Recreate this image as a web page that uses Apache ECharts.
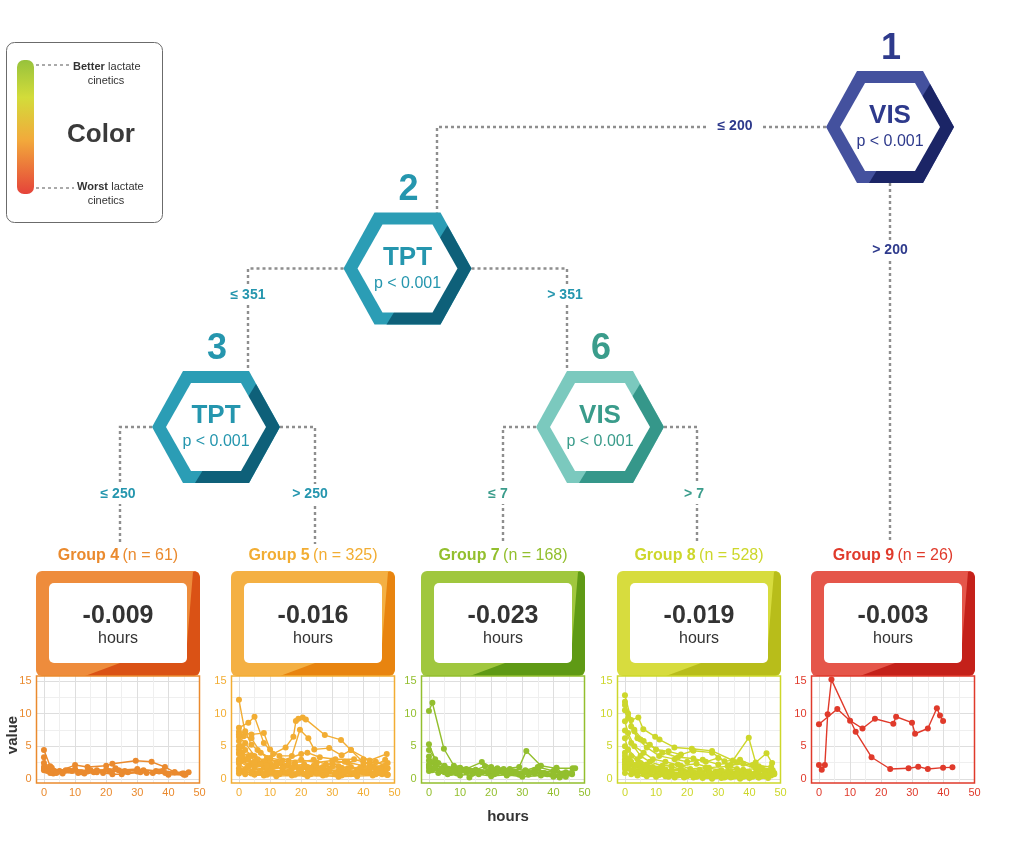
<!DOCTYPE html>
<html>
<head>
<meta charset="utf-8">
<script src="https://cdn.jsdelivr.net/npm/echarts@6/dist/echarts.min.js"></script>
<style>html,body{margin:0;background:#fff}#main{width:1036px;height:854px}</style>
</head>
<body>
<div id="main"></div>
<script>
// ---- data ----
const nodeIds = ['1', '2', '3', '6'];
const nodeVars = ['VIS', 'TPT', 'TPT', 'VIS'];
const nodePvals = ['p < 0.001', 'p < 0.001', 'p < 0.001', 'p < 0.001'];
const splitLabels = ['≤ 200', '> 200', '≤ 351', '> 351', '≤ 250', '> 250', '≤ 7', '> 7'];
const groupNames = ['Group 4', 'Group 5', 'Group 7', 'Group 8', 'Group 9'];
const groupN = [61, 325, 168, 528, 26];
const groupSlopes = ['-0.009', '-0.016', '-0.023', '-0.019', '-0.003'];
const xTicks = [0, 10, 20, 30, 40, 50];
const xGrid = [0, 5, 10, 15, 20, 25, 30, 35, 40, 45, 50];
const yTicks = [0, 5, 10, 15];
const yGrid = [0, 2.5, 5, 7.5, 10, 12.5, 15];

const g4Lines = [
  [[0,4.4],[2,1.9],[5,1.2],[10,2.1],[14,1.8],[20,2.0],[22,2.3],[29.5,2.75],[34.6,2.6],[38.9,1.8],[42,1.0],[46.5,1.0]],
  [[0,3.3],[1,1.5],[3,0.8],[7,1.3],[12,1.0],[17,1.3],[24,1.3],[30,1.5],[36,1.2],[45,0.8]],
  [[0,2.4],[2.5,1.7],[5,1.1],[10,1.5],[14,1.1],[19,0.9],[22,0.7],[25,0.7],[31,1.0],[39,0.9],[44.5,0.8]],
  [[0,1.3],[2,0.9],[6,0.8],[9,1.2],[13,0.8],[17,1.0],[21,1.2],[27,1.0],[33,0.9],[37,1.1],[40,0.6],[45,0.6]],
  [[0,1.8],[3,1.2],[8,1.3],[15,1.3],[20,1.4],[26,1.2],[32,1.3],[38,1.2],[42,1.0]],
  [[0,1.5],[1,1.2],[4,0.9],[11,0.9],[16,1.0],[23,1.6],[30,1.1],[35,0.9],[45.5,0.6]]
];
const g5Lines = [
  [[0,12.1],[2,7.0],[4,6.8],[8,7.0],[10,4.5],[13,3.5],[17,3.5],[19.6,7.5],[22.3,6.2],[24.2,4.5],[29,4.7],[33,3.6],[36,4.4],[42,2.8],[47.5,3.8]],
  [[0,7.8],[3,8.6],[5,9.5],[8,5.5],[11,3.8],[15,4.8],[17.5,6.45],[18.3,8.85],[19.1,9.2],[20.5,9.4],[21.5,9.1],[27.6,6.7],[32.8,5.95],[36,4.4],[40,2.5],[47.8,2.4]],
  [[0,7.2],[1.5,6.5],[4,6.2],[7,4.0],[10,3.2],[14,2.8],[20,3.8],[22,4.0],[26,3.3],[31,3.0],[37,3.0],[42,2.2],[46,1.8]],
  [[0,6.4],[2,5.5],[5,3.5],[9,2.6],[12,2.0],[18,2.5],[24,2.9],[28,2.2],[34,2.6],[40,2.0],[47.8,1.6]],
  [[0,5.0],[1,4.0],[3,3.5],[6,2.5],[10,3.0],[16,2.0],[21,2.2],[25,1.8],[30,2.3],[35,1.6],[43,1.9],[47,2.9]],
  [[0,4.5],[2,3.0],[4,2.3],[8,1.8],[13,2.4],[17,1.5],[22,1.8],[27,1.5],[32,1.9],[38,1.4],[44,1.5],[47.8,0.6]],
  [[0,3.8],[1,2.8],[5,1.7],[9,1.4],[14,1.2],[19,1.6],[24,1.2],[29,1.3],[34,1.0],[39,1.2],[45,0.9]],
  [[0,3.0],[3,2.0],[7,1.2],[11,0.9],[15,1.0],[20,1.1],[26,0.8],[31,0.9],[36,0.7],[41,0.9],[46,0.7]],
  [[0,2.3],[2,1.5],[5,0.9],[9,0.6],[13,0.7],[18,0.6],[23,0.7],[28,0.6],[33,0.5],[38,0.6],[44,0.7],[47.8,0.6]],
  [[0,1.6],[1,1.2],[4,0.8],[7,1.0],[12,0.8],[16,0.9],[21,0.7],[25,1.0],[31,0.7],[37,0.8],[42,1.3]],
  [[0,6.8],[2,7.3],[4,5.2],[6,4.4],[9,3.2],[12,2.5],[16,2.7],[20,2.9],[25,2.5],[30,2.8],[35,2.5],[40,3.0],[44,2.6],[47,2.0]],
  [[0,2.7],[3,1.8],[6,2.2],[10,1.5],[14,1.7],[18,1.9],[23,1.4],[27,1.7],[33,1.4],[39,1.7],[46,1.4]],
  [[0,0.8],[2,0.7],[5,0.6],[8,0.5],[12,0.4],[17,0.5],[22,0.4],[27,0.5],[32,0.3],[38,0.4],[43,0.5],[47.5,0.6]],
  [[0,5.8],[1,5.0],[2,4.4],[4,3.6],[6,3.0],[8,2.7],[10,2.4],[12,2.2],[15,2.0],[18,2.1],[21,1.9],[24,2.0],[27,1.8],[30,1.9],[33,1.7],[36,1.8],[39,1.6],[42,1.7],[45,1.6],[47.5,1.5]],
  [[0,4.0],[1,3.5],[3,2.9],[5,2.6],[7,2.2],[9,2.0],[11,1.8],[14,1.6],[17,1.7],[20,1.5],[23,1.6],[26,1.3],[29,1.4],[32,1.2],[35,1.3],[38,1.1],[41,1.2],[44,1.0],[47,1.1]],
  [[0,1.2],[2,1.0],[4,1.1],[6,0.9],[8,0.8],[10,1.0],[13,0.9],[16,1.1],[19,0.9],[22,1.0],[25,0.8],[28,1.0],[31,0.9],[34,1.1],[37,0.9],[40,1.0],[43,0.8],[46,0.9]]
];
const g7Lines = [
  [[0,10.4],[1.1,11.65],[4.8,4.6],[8,2.0],[12,1.5],[17,2.55],[20,1.8],[24,1.5],[29,1.8],[31.3,4.27],[36,2.0],[41,1.6],[46.2,1.6]],
  [[0,5.3],[2,3.0],[5,2.0],[9,1.6],[14,1.2],[18,1.9],[23,1.3],[28,1.0],[34,1.4],[40,1.0],[45,0.8]],
  [[0,4.4],[3,2.4],[6,1.5],[10,1.7],[13,0.2],[17,1.0],[22,1.6],[26,0.8],[31,1.2],[36,0.9],[42,0.5]],
  [[0,3.4],[1.5,2.5],[4,1.5],[8,1.2],[12,1.0],[16,0.7],[21,1.0],[25,0.5],[30,0.8],[35,1.5],[40,0.3],[44,0.6]],
  [[0,2.2],[2,1.6],[5,1.0],[9,0.8],[15,1.2],[19,0.9],[24,1.1],[29,0.6],[34,1.0],[38,0.7],[43,0.5],[47,1.6]],
  [[0,1.7],[1,1.3],[4,1.2],[7,0.9],[11,1.4],[16,1.0],[21,0.7],[27,1.1],[32,0.6],[37,0.8],[41,1.7],[44,0.3]],
  [[0,1.2],[3,0.9],[6,0.7],[10,0.5],[14,0.8],[20,0.4],[25,0.6],[30,0.3],[36,0.5],[42,0.2],[46,0.7]],
  [[0,2.8],[2,2.0],[5,1.8],[10,1.6],[15,1.4],[20,1.3],[26,1.5],[31,1.3],[35,1.8],[40,1.2],[44,1.0]],
  [[0,2.0],[2,1.7],[4,1.5],[6,1.3],[8,1.4],[10,1.2],[13,1.3],[16,1.1],[19,1.2],[22,1.0],[25,1.1],[28,0.9],[31,1.0],[34,0.8],[37,0.9],[40,0.7],[43,0.8],[46,0.9]]
];
const g8Lines = [
  [[0,12.8],[2,9.0],[4.3,9.4],[5.9,7.6],[9.7,6.45],[11.1,6.0],[15.9,4.8],[21.5,4.6],[28,4.27],[34.7,2.8],[39.8,6.3],[42,2.5],[45.5,3.9],[47.3,2.4]],
  [[0,11.8],[1,10.0],[3,7.5],[6,5.8],[10,4.5],[14,4.2],[18,3.7],[22,4.3],[28,4.0],[32,2.7],[37,2.9],[41,2.1],[47,1.8]],
  [[0,11.3],[2,8.0],[4,6.2],[7,4.8],[11,3.5],[16,3.0],[20,2.6],[25,2.9],[30,2.2],[36,2.5],[42,1.6],[46,1.2]],
  [[0,8.8],[1,7.0],[3,5.0],[6,4.0],[9,3.0],[13,2.6],[18,2.0],[23,2.3],[27,1.7],[33,1.9],[38,1.4],[44,1.6]],
  [[0,7.4],[2,5.5],[5,3.5],[8,2.6],[12,2.0],[17,2.2],[21,1.5],[26,1.7],[31,1.3],[36,1.5],[40,1.0],[45,1.2],[47.5,0.8]],
  [[0,6.2],[1,4.5],[4,3.0],[7,2.2],[11,1.6],[15,1.9],[19,1.2],[24,1.4],[29,1.0],[34,1.2],[39,0.8],[43,1.1]],
  [[0,5.0],[2,3.5],[5,2.4],[9,1.8],[13,1.4],[18,1.5],[22,1.0],[27,1.2],[32,0.8],[37,1.0],[41,0.6],[46,0.8]],
  [[0,4.0],[1,3.0],[3,2.1],[6,1.6],[10,1.2],[14,1.0],[19,0.9],[25,0.7],[30,0.9],[35,0.6],[40,0.8],[44,0.5]],
  [[0,3.0],[2,2.2],[5,1.5],[8,1.1],[12,0.8],[16,0.6],[21,0.7],[26,0.5],[31,0.6],[36,0.4],[42,0.5],[47,0.6]],
  [[0,2.2],[1,1.6],[4,1.1],[7,0.8],[11,0.6],[15,0.5],[20,0.4],[24,0.5],[28,0.3],[33,0.4],[38,0.3],[45,0.4]],
  [[0,1.5],[3,1.0],[6,0.7],[10,0.5],[14,0.3],[19,0.2],[23,0.3],[28,0.0],[32,0.2],[37,0.1],[43,0.2]],
  [[0,10.5],[1,9.3],[3,7.3],[5,6.0],[8,5.2],[12,4.0],[17,3.3],[22,3.1],[26,2.6],[30,3.2],[34,2.1],[38,2.3],[43,1.9],[47.5,1.3]],
  [[0,3.5],[1,3.0],[2,2.6],[4,2.2],[6,1.9],[8,1.7],[10,1.5],[12,1.4],[15,1.3],[18,1.2],[21,1.1],[24,1.2],[27,1.0],[30,1.1],[33,1.0],[36,0.9],[39,1.0],[42,0.9],[45,0.8],[48,0.9]],
  [[0,2.6],[1,2.2],[3,1.8],[5,1.5],[7,1.3],[9,1.2],[12,1.1],[15,1.0],[18,0.9],[21,1.0],[24,0.8],[27,0.9],[30,0.7],[33,0.8],[36,0.7],[39,0.6],[42,0.7],[45,0.6],[48,0.7]],
  [[0,1.8],[2,1.3],[4,1.0],[6,0.9],[8,0.7],[11,0.6],[14,0.7],[17,0.5],[20,0.6],[23,0.4],[26,0.5],[29,0.4],[32,0.5],[35,0.3],[38,0.4],[41,0.3],[44,0.4],[47,0.5]],
  [[0,0.9],[2,0.7],[4,0.5],[7,0.4],[10,0.3],[13,0.4],[16,0.2],[19,0.3],[22,0.2],[25,0.1],[28,0.2],[31,0.1],[34,0.2],[37,0.0],[40,0.1],[43,0.2],[46,0.1]]
];
const g9Lines = [
  [[0,8.35],[5.9,10.7],[10,8.9],[14,7.7],[18,9.2],[23.9,8.45],[24.8,9.5],[29.9,8.6],[30.9,6.9],[35,7.7],[37.9,10.8],[38.9,9.7],[39.9,8.85]],
  [[0,2.1],[0.9,1.4],[1.9,2.1],[2.8,9.9],[4,15.2],[11.8,7.2],[16.9,3.3],[22.9,1.5],[28.8,1.6],[31.9,1.85],[35,1.5],[39.9,1.7],[42.9,1.75]]
];
const groupLines = [g4Lines, g5Lines, g7Lines, g8Lines, g9Lines];

// ---- styles and layout ----
const FF = '"Liberation Sans", Arial, sans-serif';
const font = (s, b) => (b ? 'bold ' : '') + s + 'px ' + FF;
const hexStyle = [
  {light: '#44519e', dark: '#1b2566', text: '#2e3a8c'},
  {light: '#2b9db5', dark: '#0e6079', text: '#2596ae'},
  {light: '#2b9db5', dark: '#0e6079', text: '#2596ae'},
  {light: '#7bc9be', dark: '#35978a', text: '#3a9c8b'}
];
const hexPos = [[890, 127], [407.5, 268.5], [216, 427], [600, 427]];
const grpStyle = [
  {light: '#ee8c3c', dark: '#da5215', line: '#ea8a2e'},
  {light: '#f4b043', dark: '#e8840f', line: '#f2ad33'},
  {light: '#a0c73e', dark: '#5f9a15', line: '#93bf2e'},
  {light: '#d7dc3e', dark: '#b8bd1a', line: '#cdd72b'},
  {light: '#e5564a', dark: '#c4211a', line: '#e03a2b'}
];
const boxLeft = [36, 231, 421, 617, 811];
const BOX_T = 571, BOX_H = 105, BOX_W = 164, PANEL_H = 107;
const lineCol = ['#2e3a8c', '#2e3a8c', '#2596ae', '#2596ae', '#2596ae', '#2596ae', '#3a9c8b', '#3a9c8b'];
const labelPos = [[735, 126], [890, 250], [248, 295], [565, 295], [118, 494], [310, 494], [498, 494], [694, 494]];

function text(x, y, s, size, bold, fill, align, extra) {
  return Object.assign({
    type: 'text', x: x, y: y, z: 30, silent: true,
    style: {text: s, font: font(size, bold), fill: fill, textAlign: align || 'center', align: align || 'center',
      textVerticalAlign: 'middle', verticalAlign: 'middle'}
  }, extra || {});
}
function hexPts(cx, cy, hw, hh, ew) {
  return [[cx + hw, cy], [cx + ew, cy + hh], [cx - ew, cy + hh], [cx - hw, cy], [cx - ew, cy - hh], [cx + ew, cy - hh]];
}
const dotted = {stroke: '#8e8e8e', lineWidth: 2.4, lineDash: [3, 3], fill: null};

const G = [];
// legend
G.push({type: 'rect', z: 5, shape: {x: 6.5, y: 42.5, width: 156, height: 180, r: 8}, style: {fill: '#fff', stroke: '#6b6b6b', lineWidth: 1}});
G.push({type: 'rect', z: 6, shape: {x: 17, y: 60, width: 17, height: 134, r: 7},
  style: {fill: new echarts.graphic.LinearGradient(0, 0, 0, 1, [
    {offset: 0, color: '#97c23c'}, {offset: 0.28, color: '#d3dc3a'}, {offset: 0.6, color: '#f2a93b'}, {offset: 1, color: '#e5433a'}])}});
G.push({type: 'polyline', z: 6, shape: {points: [[36, 65], [70, 65]]}, style: Object.assign({}, dotted, {lineWidth: 1.6})});
G.push({type: 'polyline', z: 6, shape: {points: [[36, 188], [74, 188]]}, style: Object.assign({}, dotted, {lineWidth: 1.6})});
const richLeg = {b: {font: font(11, true), fill: '#333'}, n: {font: font(11), fill: '#333'}};
G.push({type: 'text', x: 73, y: 67, z: 30, silent: true, style: {text: '{b|Better} {n|lactate}', rich: richLeg, align: 'left', textAlign: 'left', verticalAlign: 'middle', textVerticalAlign: 'middle'}});
G.push(text(106, 81, 'cinetics', 11, false, '#333'));
G.push({type: 'text', x: 77, y: 187, z: 30, silent: true, style: {text: '{b|Worst} {n|lactate}', rich: richLeg, align: 'left', textAlign: 'left', verticalAlign: 'middle', textVerticalAlign: 'middle'}});
G.push(text(106, 201, 'cinetics', 11, false, '#333'));
G.push(text(101, 135, 'Color', 26, true, '#3a3a3a'));

// connectors
const conn = [
  [[826, 127], [437, 127], [437, 212.5]],
  [[890, 183], [890, 543]],
  [[343.5, 268.5], [248, 268.5], [248, 371]],
  [[471.5, 268.5], [567, 268.5], [567, 371]],
  [[152, 427], [120, 427], [120, 544]],
  [[280, 427], [315, 427], [315, 544]],
  [[536, 427], [503, 427], [503, 544]],
  [[664, 427], [697, 427], [697, 544]]
];
conn.forEach(p => G.push({type: 'polyline', z: 4, shape: {points: p}, style: dotted}));
splitLabels.forEach((s, i) => {
  const [x, y] = labelPos[i];
  const w = s.length * 9 + 8;
  G.push({type: 'rect', z: 8, shape: {x: x - w / 2, y: y - 10, width: w, height: 20}, style: {fill: '#fff'}});
  G.push(text(x, y, s, 14, true, lineCol[i]));
});

// hexagon nodes
nodeIds.forEach((id, i) => {
  const [cx, cy] = hexPos[i], c = hexStyle[i];
  G.push({type: 'polygon', z: 10, shape: {points: hexPts(cx, cy, 64, 56, 33)}, style: {fill: c.light}});
  G.push({type: 'polygon', z: 11, shape: {points: [[cx - 21, cy + 56], [cx + 33, cy + 56], [cx + 64, cy], [cx + 40, cy - 43]]}, style: {fill: c.dark}});
  G.push({type: 'polygon', z: 12, shape: {points: hexPts(cx, cy, 50, 44, 25)}, style: {fill: '#fff'}});
  G.push(text(cx, cy - 11, nodeVars[i], 26, true, c.text));
  G.push(text(cx, cy + 15, nodePvals[i], 16, false, c.text));
  G.push(text(cx + 1, cy - 78, id, 36, true, c.text));
});

// group boxes
groupNames.forEach((g, i) => {
  const L = boxLeft[i], T = BOX_T, B = BOX_T + BOX_H, c = grpStyle[i];
  G.push({type: 'rect', z: 10, shape: {x: L, y: T, width: BOX_W, height: BOX_H, r: 6}, style: {fill: c.light}});
  G.push({type: 'polygon', z: 11, shape: {points: [[L + 49, B], [L + 84, B - 13], [L + 150, B - 20], [L + 157, T + 1], [L + 159, T + 0.3],
    [L + 162.2, T + 1.8], [L + 164, T + 6], [L + 164, B - 6], [L + 162.2, B - 1.8], [L + 158, B]]}, style: {fill: c.dark}});
  G.push({type: 'rect', z: 12, shape: {x: L + 13, y: T + 12, width: 138, height: 80, r: 5}, style: {fill: '#fff'}});
  G.push(text(L + 82, T + 45, groupSlopes[i], 25, true, '#333'));
  G.push(text(L + 82, T + 68, 'hours', 16, false, '#333'));
  G.push({type: 'text', x: L + 82, y: 556, z: 30, silent: true, style: {
    text: '{b|' + g + '} {n|(n = ' + groupN[i] + ')}',
    rich: {b: {font: font(16, true), fill: c.line}, n: {font: font(16), fill: c.line}},
    align: 'center', textAlign: 'center', verticalAlign: 'middle', textVerticalAlign: 'middle'}});
  // panel border
  G.push({type: 'rect', z: 25, shape: {x: L + 0.5, y: B, width: 163, height: PANEL_H}, style: {fill: null, stroke: c.line, lineWidth: 1.5}});
});
G.push(text(13, 735, 'value', 15, true, '#333', 'center', {rotation: Math.PI / 2}));
G.push(text(508, 817, 'hours', 15, true, '#333'));

// grids, axes, series
const grid = [], xAxis = [], yAxis = [], series = [];
groupNames.forEach((g, i) => {
  const c = grpStyle[i];
  grid.push({left: boxLeft[i] + 0.5, top: BOX_T + BOX_H, width: 163, height: PANEL_H, show: true, backgroundColor: '#fff', borderWidth: 0});
  xAxis.push({type: 'value', gridIndex: i, min: -2.4, max: 50,
    axisLine: {show: false}, axisTick: {show: false, customValues: xGrid},
    axisLabel: {customValues: xTicks, color: c.line, fontSize: 11, fontFamily: FF, margin: 4},
    splitLine: {show: true, lineStyle: {color: ['#dedede', '#efefef'], width: 1}}});
  yAxis.push({type: 'value', gridIndex: i, min: -0.65, max: 15.75,
    axisLine: {show: false}, axisTick: {show: false, customValues: yGrid},
    axisLabel: {customValues: yTicks, color: c.line, fontSize: 11, fontFamily: FF, margin: 5},
    splitLine: {show: true, lineStyle: {color: ['#dedede', '#efefef'], width: 1}}});
  groupLines[i].forEach(line => series.push({
    type: 'line', xAxisIndex: i, yAxisIndex: i, data: line, symbol: 'circle', symbolSize: 6,
    lineStyle: {width: 1.4, color: c.line}, itemStyle: {color: c.line}, silent: true, z: 3
  }));
});

const chart = echarts.init(document.getElementById('main'));
chart.setOption({
  animation: false,
  backgroundColor: '#fff',
  grid: grid, xAxis: xAxis, yAxis: yAxis, series: series,
  graphic: {elements: G}
});
window.addEventListener('resize', () => chart.resize());
</script>
</body>
</html>
